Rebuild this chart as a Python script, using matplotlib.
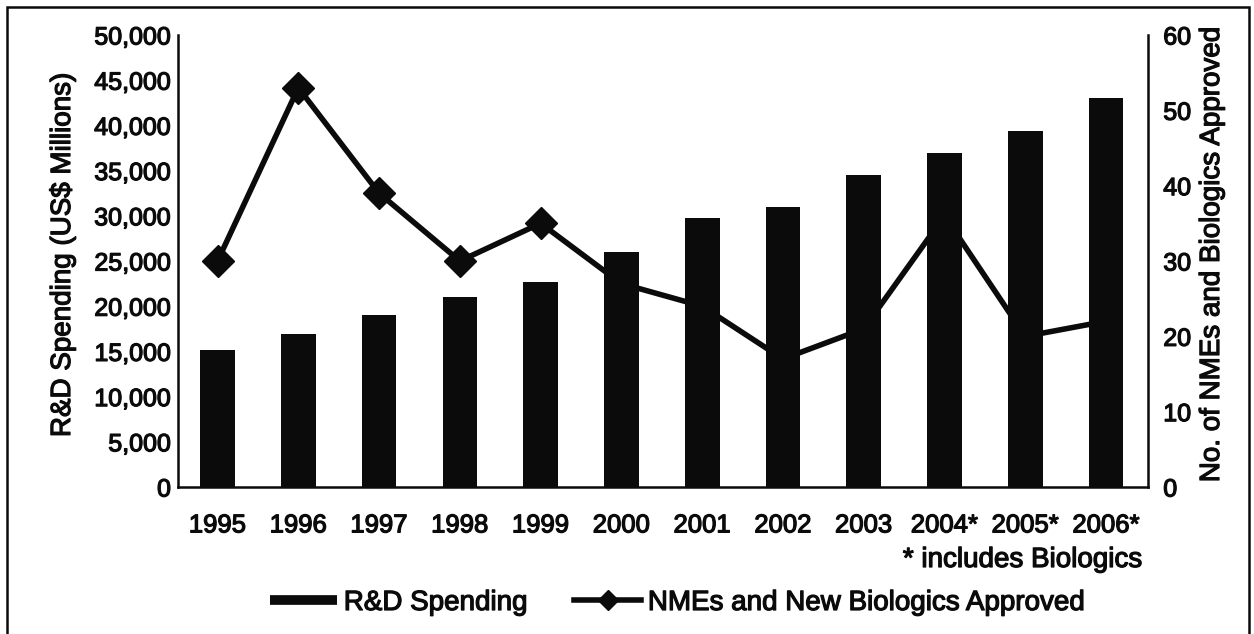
import matplotlib
matplotlib.use("Agg")
import matplotlib.pyplot as plt
import matplotlib.patheffects as pe
from matplotlib.lines import Line2D
from matplotlib.patches import Rectangle
from matplotlib.text import Text

plt.rcParams['font.family'] = ['Liberation Sans', 'DejaVu Sans']

# Data
years = ["1995", "1996", "1997", "1998", "1999", "2000", "2001", "2002", "2003",
         "2004*", "2005*", "2006*"]
rd_spending = [15200, 16900, 19000, 21000, 22700, 26000, 29800, 31000, 34500,
               37000, 39400, 43000]
approvals = [30, 53, 39, 30, 35, 27, 24, 17, 21, 36, 20, 22]
left_ticks = [0, 5000, 10000, 15000, 20000, 25000, 30000, 35000, 40000, 45000, 50000]
right_ticks = [0, 10, 20, 30, 40, 50, 60]

W, H = 1254, 634
fig = plt.figure(figsize=(W / 100, H / 100), dpi=100)
ax = fig.add_axes([178 / W, 1 - 487 / H, (1148 - 178) / W, (487 - 35) / H])
ax2 = ax.twinx()

x = list(range(len(years)))
ink = '#0b0b0b'

# Approval line sits behind the bars
ax2.plot(x, approvals, color=ink, lw=4.0, marker='D', ms=16, mec=ink, mfc=ink,
         solid_joinstyle='miter', zorder=1)
ax.bar(x, rd_spending, width=0.43, color=ink, zorder=2)

ax.set_zorder(ax2.get_zorder() + 1)
ax.patch.set_visible(False)

ax.set_xlim(-0.49, 11.52)
ax.set_ylim(0, 50000)
ax2.set_ylim(0, 60)

ax.set_yticks(left_ticks)
ax.set_yticklabels([f"{v:,}" for v in left_ticks])
ax2.set_yticks(right_ticks)
ax2.set_yticklabels([str(v) for v in right_ticks])
ax.set_xticks(x)
ax.set_xticklabels(years)

ax.tick_params(axis='y', length=0, pad=5, labelsize=18)
ax.tick_params(axis='x', length=0, pad=19, labelsize=18.5)
ax2.tick_params(axis='y', length=0, pad=11, labelsize=18)

for a in (ax, ax2):
    a.spines['top'].set_visible(False)
    for s in ('left', 'right', 'bottom'):
        a.spines[s].set_linewidth(1.8)
        a.spines[s].set_color(ink)
ax.spines['right'].set_visible(False)
ax2.spines['left'].set_visible(False)
ax2.spines['bottom'].set_visible(False)

fig.text(63 / W, 1 - 255 / H, "R&D Spending (US$ Millions)", rotation=90,
         ha='center', va='center', fontsize=20)
fig.text(1212 / W, 1 - 255 / H, "No. of NMEs and Biologics Approved", rotation=90,
         ha='center', va='center', fontsize=20)

fig.text(1142 / W, 1 - 560 / H, "* includes Biologics", ha='right', va='center',
         fontsize=20)

handles = [Line2D([], [], color=ink, lw=7, solid_capstyle='butt'),
           Line2D([], [], color=ink, lw=4.0, marker='D', ms=10)]
fig.legend(handles, ["R&D Spending", "NMEs and New Biologics Approved"],
           loc='center', bbox_to_anchor=(677 / W, 1 - 603 / H), ncol=2,
           frameon=False, fontsize=20, handlelength=2.4, handletextpad=0.25,
           columnspacing=1.7)

# Outer frame
fig.add_artist(Rectangle((7 / W, -0.05), (1249 - 7) / W, 1.05 - 7 / H,
                         transform=fig.transFigure, fill=False, lw=1.8,
                         edgecolor=ink))

# Heavier print-style strokes on all text
for t in fig.findobj(Text):
    t.set_color(ink)
    t.set_path_effects([pe.withStroke(linewidth=0.9, foreground=ink)])

fig.savefig("out.png", dpi=100)
